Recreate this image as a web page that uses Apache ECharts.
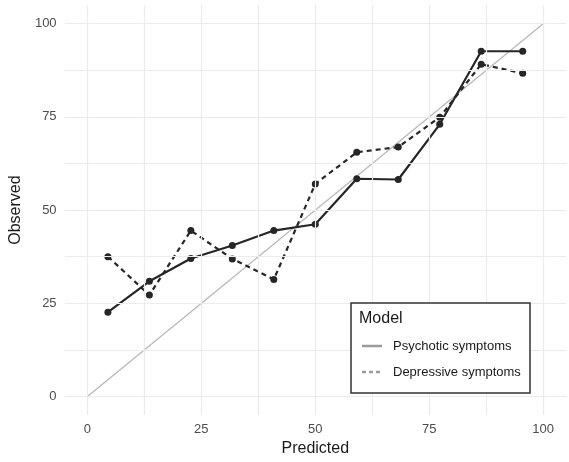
<!DOCTYPE html>
<html>
<head>
<meta charset="utf-8">
<script src="https://cdn.jsdelivr.net/npm/echarts@6/dist/echarts.min.js"></script>
<style>html,body{margin:0;padding:0;background:#fff}#c{width:569px;height:462px}</style>
</head>
<body>
<div id="c"></div>
<script>
// Data
var predicted = [4.5, 13.6, 22.7, 31.8, 40.9, 50.0, 59.1, 68.2, 77.3, 86.4, 95.5];
var psychoticObserved = [22.6, 30.9, 37.0, 40.5, 44.5, 46.2, 58.4, 58.2, 73.0, 92.6, 92.6];
var depressiveObserved = [37.5, 27.2, 44.5, 36.9, 31.4, 57.0, 65.5, 66.9, 74.9, 89.1, 86.7];
var tickValues = [0, 25, 50, 75, 100];
var gridValues = [0, 12.5, 25, 37.5, 50, 62.5, 75, 87.5, 100];
var diagonal = [[0, 0], [100, 100]];
var legendTitle = 'Model';
var seriesNames = ['Psychotic symptoms', 'Depressive symptoms'];

function pairs(xs, ys) { return xs.map(function (x, i) { return [x, ys[i]]; }); }

var font = "'Liberation Sans', Arial, Helvetica, sans-serif";
var chart = echarts.init(document.getElementById('c'), null, {renderer: 'canvas'});
var gridLineStyle = {color: '#ebebeb', width: 1.2, type: 'solid'};

var option = {
  animation: false,
  backgroundColor: '#ffffff',
  grid: {left: 62, right: 3, top: 5, bottom: 41},
  xAxis: {
    type: 'value', min: -5, max: 105, interval: 5,
    axisLine: {show: false}, axisTick: {show: false}, splitLine: {show: false},
    axisLabel: {
      color: '#4d4d4d', fontSize: 13, fontFamily: font, margin: 8,
      formatter: function (v) { return tickValues.indexOf(v) >= 0 ? String(v) : ''; }
    },
    name: 'Predicted', nameLocation: 'middle', nameGap: 23,
    nameTextStyle: {color: '#1a1a1a', fontSize: 16, fontFamily: font}
  },
  yAxis: {
    type: 'value', min: -5, max: 105, interval: 5,
    axisLine: {show: false}, axisTick: {show: false}, splitLine: {show: false},
    axisLabel: {
      color: '#4d4d4d', fontSize: 13, fontFamily: font, margin: 8,
      formatter: function (v) { return tickValues.indexOf(v) >= 0 ? String(v) : ''; }
    },
    name: 'Observed', nameLocation: 'middle', nameGap: 35, nameRotate: 90,
    nameTextStyle: {color: '#1a1a1a', fontSize: 16, fontFamily: font}
  },
  series: [
    {
      type: 'line', data: [], silent: true,
      markLine: {
        silent: true, symbol: ['none', 'none'], label: {show: false},
        lineStyle: gridLineStyle, animation: false,
        data: gridValues.map(function (v) { return {xAxis: v}; })
          .concat(gridValues.map(function (v) { return {yAxis: v}; }))
      },
      z: 0
    },
    {
      type: 'line', data: diagonal, showSymbol: false, silent: true,
      lineStyle: {color: '#b8b8b8', width: 1.3}, z: 1
    },
    {
      name: seriesNames[0], type: 'line', data: pairs(predicted, psychoticObserved),
      symbol: 'circle', symbolSize: 7,
      itemStyle: {color: '#262626'}, lineStyle: {color: '#262626', width: 2.2}, z: 3
    },
    {
      name: seriesNames[1], type: 'line', data: pairs(predicted, depressiveObserved),
      symbol: 'circle', symbolSize: 7,
      itemStyle: {color: '#262626'}, lineStyle: {color: '#262626', width: 2.2, type: [5, 4]}, z: 3
    }
  ],
  graphic: [
    {type: 'rect', shape: {x: 351, y: 303, width: 179, height: 90},
     style: {fill: '#ffffff', stroke: '#333333', lineWidth: 1.5}, z: 10},
    {type: 'text', x: 359, y: 319, z: 11,
     style: {text: legendTitle, fill: '#1a1a1a', font: '16px ' + font, textVerticalAlign: 'middle', verticalAlign: 'middle'}},
    {type: 'line', shape: {x1: 362, y1: 346, x2: 382, y2: 346}, z: 11,
     style: {stroke: '#9a9a9a', lineWidth: 2.5}},
    {type: 'text', x: 393, y: 346, z: 11,
     style: {text: seriesNames[0], fill: '#1a1a1a', font: '13px ' + font, verticalAlign: 'middle'}},
    {type: 'line', shape: {x1: 362, y1: 372, x2: 382, y2: 372}, z: 11,
     style: {stroke: '#9a9a9a', lineWidth: 2.5, lineDash: [4, 3]}},
    {type: 'text', x: 393, y: 372, z: 11,
     style: {text: seriesNames[1], fill: '#1a1a1a', font: '13px ' + font, verticalAlign: 'middle'}}
  ]
};
chart.setOption(option);
</script>
</body>
</html>
